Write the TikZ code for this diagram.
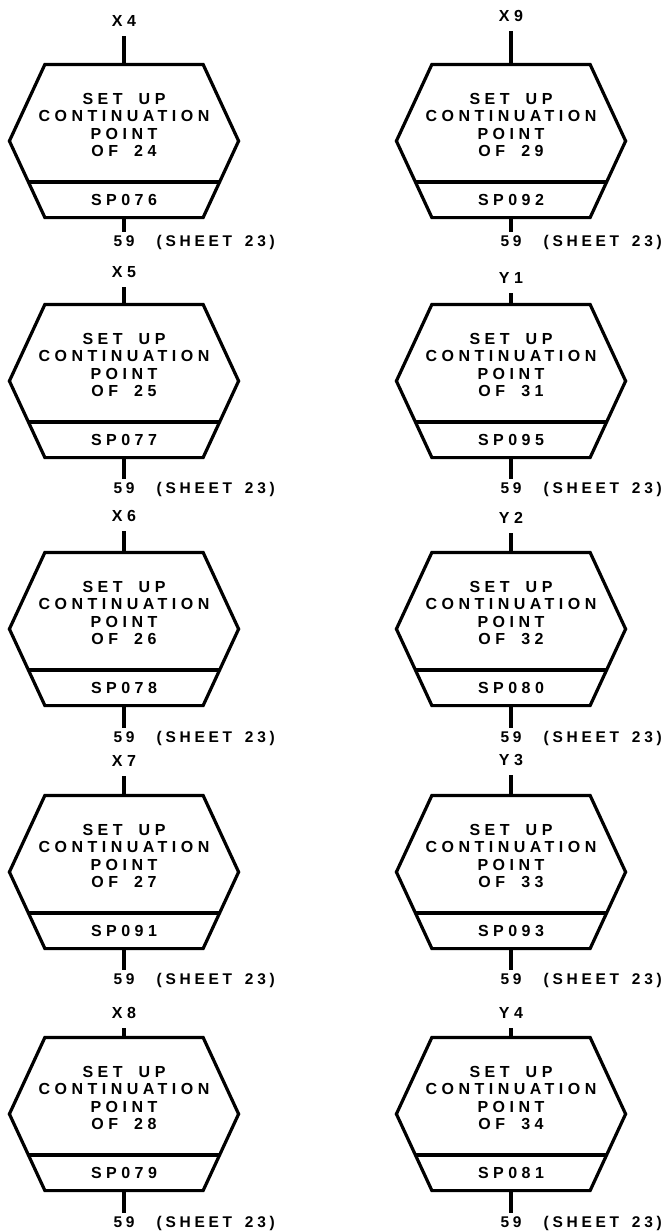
\documentclass[tikz,border=0pt]{standalone}
\usepackage{fontspec}
\newfontfamily\lettering{Liberation Sans}[LetterSpace=28, WordSpace=1.8]
\newfontfamily\outletfont{Liberation Sans}[LetterSpace=24, WordSpace=1.6]
\usetikzlibrary{positioning,calc}

\begin{document}
\begin{tikzpicture}[
  x=1pt, y=1pt,
  font=\lettering\bfseries\fontsize{16}{17.5}\selectfont,
  line width=3.2pt,
  hexa/.style  = {rectangle, inner sep=0pt,
                  minimum width=226pt, minimum height=150pt},
  lbl/.style   = {inner sep=0pt, text height=11.5pt, text depth=3pt},
  outl/.style  = {lbl, font=\outletfont\bfseries\fontsize{15.5}{17}\selectfont},
  body/.style  = {align=center, inner sep=0pt}
]
\useasboundingbox (0,0) rectangle (670,-1232);

% Boxes: centre x / centre y / label gap / outlet gap / entry / point / routine
\foreach \cx/\cy/\ga/\gb/\lab/\ofn/\spn [count=\i] in {
    124/-141/33pt/16pt/X4/24/SP076,
    124/-381/22pt/23pt/X5/25/SP077,
    124/-629/26pt/24pt/X6/26/SP078,
    124/-872/24pt/23pt/X7/27/SP091,
    124/-1114/14pt/24pt/X8/28/SP079,
    511/-141/38pt/16pt/X9/29/SP092,
    511/-381/16pt/23pt/Y1/31/SP095,
    511/-629/24pt/24pt/Y2/32/SP080,
    511/-872/25pt/23pt/Y3/33/SP093,
    511/-1114/14pt/24pt/Y4/34/SP081}{
  \node[hexa] (hx\i) at (\cx,\cy) {};
  \draw ($(hx\i.north west)+(35.5,0)$) -- ($(hx\i.north east)+(-35.5,0)$)
     -- (hx\i.east) -- ($(hx\i.south east)+(-35.5,0)$)
     -- ($(hx\i.south west)+(35.5,0)$) -- (hx\i.west) -- cycle;
  \node[body, below=27pt of hx\i.north] (bd\i) {SET UP\\CONTINUATION\\POINT\\OF \ofn};
  \node[lbl] (sp\i) at ($(hx\i.south)+(0,16)$) {\spn};
  \draw ($(hx\i.west)+(19.4,-41)$) -- ($(hx\i.east)+(-19.4,-41)$);

  % entry and outlet
  \node[lbl, above=\ga of hx\i.north] (in\i) {\lab};
  \node[outl, below=\gb of hx\i.south] (ou\i) {59};
  \node[outl, right=19pt of ou\i] (sh\i) {(SHEET 23)};
  \draw[shorten <=5pt] (in\i.south) -- (hx\i.north);
  \draw[shorten >=2pt] (hx\i.south) -- (ou\i.north);
}
\end{tikzpicture}
\end{document}
